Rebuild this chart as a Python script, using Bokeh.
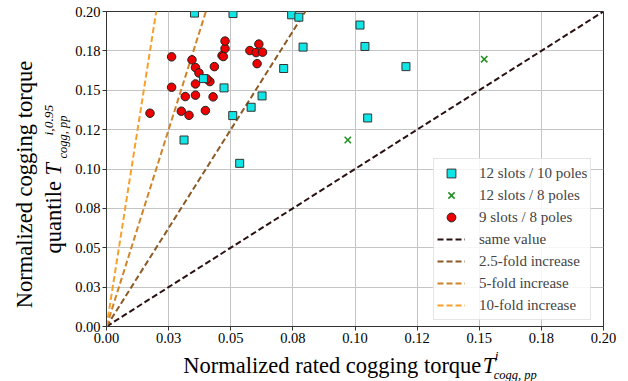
import math
from bokeh.plotting import figure
from bokeh.layouts import row, column
from bokeh.models import Legend, LegendItem, FixedTicker, Range1d
from bokeh.core.properties import value
from bokeh.embed import file_html
from bokeh.resources import INLINE

# ---------------- data ----------------
s12p10_x = [0.0354, 0.0509, 0.0745, 0.0774, 0.0791, 0.1020, 0.1040, 0.1205, 0.1051,
            0.0713, 0.0626, 0.0582, 0.0508, 0.0473, 0.0390, 0.0312, 0.0536]
s12p10_y = [0.1990, 0.1987, 0.1979, 0.1964, 0.1774, 0.1914, 0.1778, 0.1650, 0.1324,
            0.1638, 0.1464, 0.1392, 0.1339, 0.1515, 0.1574, 0.1184, 0.1036]

s12p8_x = [0.0971, 0.1520]
s12p8_y = [0.1184, 0.1697]

s9p8_x = [0.0175, 0.0262, 0.0262, 0.0301, 0.0332, 0.0317, 0.0344, 0.0358, 0.0372, 0.0358,
          0.0358, 0.0398, 0.0416, 0.0404, 0.0429, 0.0434, 0.0465, 0.0470, 0.0477, 0.0477,
          0.0577, 0.0602, 0.0628, 0.0613, 0.0606]
s9p8_y = [0.1354, 0.1712, 0.1519, 0.1367, 0.1341, 0.1460, 0.1693, 0.1644, 0.1610, 0.1540,
          0.1469, 0.1371, 0.1555, 0.1572, 0.1458, 0.1650, 0.1720, 0.1714, 0.1765, 0.1812,
          0.1752, 0.1739, 0.1742, 0.1793, 0.1669]

ref_factors = [1.0, 2.5, 5.0, 10.0]
ref_names = ["same value", "2.5-fold increase", "5-fold increase", "10-fold increase"]
ref_colors = ["#2b1212", "#8c5a25", "#cf8428", "#f8a02a"]

tick_values = [0.0, 0.025, 0.05, 0.075, 0.1, 0.125, 0.15, 0.175, 0.2]
tick_labels = ["0.00", "0.03", "0.05", "0.08", "0.10", "0.12", "0.15", "0.18", "0.20"]

series_names = ["12 slots / 10 poles", "12 slots / 8 poles", "9 slots / 8 poles"]

x_max = 0.2
y_max = 0.2

# ---------------- layout geometry ----------------
W, H = 628, 381
YW = 72                 # width of the left title strip
MAIN_H = 348            # height of the main figure
XH = H - MAIN_H         # height of bottom title strip
BL, BR, BT, BB = 33, 25, 11, 22   # borders of the main figure
FONT = "Liberation Serif"

p = figure(width=W - YW, height=MAIN_H, x_range=Range1d(0, x_max), y_range=Range1d(0, y_max),
           output_backend="svg", toolbar_location=None,
           min_border_left=BL, min_border_right=BR, min_border_top=BT, min_border_bottom=BB)

p.outline_line_color = "#333333"
p.outline_line_width = 1
p.background_fill_color = "white"
p.border_fill_color = "white"

for ax in (p.xaxis, p.yaxis):
    ax.ticker = FixedTicker(ticks=tick_values)
    ax.major_label_overrides = dict(zip(tick_values, tick_labels))
    ax.major_label_text_font = FONT
    ax.major_label_text_font_size = "14.5px"
    ax.major_label_text_color = "black"
    ax.axis_line_color = "#333333"
    ax.major_tick_line_color = "#333333"
    ax.major_tick_out = 4
    ax.major_tick_in = 0
    ax.minor_tick_line_color = None
    ax.major_label_standoff = 2

p.xgrid.grid_line_color = "#c4c4c4"
p.ygrid.grid_line_color = "#c4c4c4"
p.xgrid.ticker = FixedTicker(ticks=tick_values)
p.ygrid.ticker = FixedTicker(ticks=tick_values)

line_rs = []
for f, c in zip(ref_factors, ref_colors):
    r = p.line([0, x_max], [0, x_max * f], line_color=c, line_width=2, line_dash="6 3")
    line_rs.append(r)

r_red = p.scatter(s9p8_x, s9p8_y, marker="circle", size=8.5, fill_color="#ee0000",
                  line_color="#222222", line_width=1)
r_cyan = p.scatter(s12p10_x, s12p10_y, marker="square", size=8, fill_color="#10e6e6",
                   line_color="#333333", line_width=1)
r_green = p.scatter(s12p8_x, s12p8_y, marker="x", size=9, line_color="#1f8f1f",
                    line_width=1.5)

items = [LegendItem(label=series_names[0], renderers=[r_cyan]),
         LegendItem(label=series_names[1], renderers=[r_green]),
         LegendItem(label=series_names[2], renderers=[r_red])]
for nm, r in zip(ref_names, line_rs):
    items.append(LegendItem(label=nm, renderers=[r]))

legend = Legend(items=items, location=(327, 6))
legend.label_text_font = FONT
legend.label_text_font_size = "15px"
legend.label_height = 22
legend.glyph_height = 22
legend.glyph_width = 28
legend.label_standoff = 14
legend.spacing = 0
legend.padding = 3
legend.margin = 0
legend.border_line_color = "#cccccc"
legend.border_line_width = 1
legend.background_fill_alpha = 0.85
p.add_layout(legend)


# ---------------- title strips (text drawn in canvas-pixel coordinates) ----------------
def strip(w, h, xr, yr, bl, br, bt, bb):
    f = figure(width=w, height=h, x_range=Range1d(*xr), y_range=Range1d(*yr),
               x_axis_type=None, y_axis_type=None, output_backend="svg",
               toolbar_location=None, min_border_left=bl, min_border_right=br,
               min_border_top=bt, min_border_bottom=bb)
    f.outline_line_color = None
    f.grid.visible = False
    f.background_fill_color = "white"
    f.border_fill_color = "white"
    return f


SHIFT = 0.33   # empirical baseline correction (fraction of font size)


def put(f, text, px, py, size, style="normal", angle=0.0, align="left"):
    # (px, py): desired baseline anchor in canvas pixels (y downward)
    if angle == 0.0:
        py = py - SHIFT * size
    else:
        px = px - SHIFT * size
    f.text(x=[px], y=[H - py], text=[text], text_font=value(FONT),
           text_font_size=value(f"{size}px"), text_font_style=style, text_color="black",
           angle=angle, text_align=align, text_baseline="alphabetic")


# bottom strip: frame aligned with main frame horizontally
xf = strip(W - YW, XH, (YW + BL, W - BR), (0, XH), BL, BR, 0, 0)
put(xf, "Normalized rated cogging torque", 182, 372, 22.5)
put(xf, "T", 482, 372, 22.5, "italic")
put(xf, "i", 494, 359.5, 13.5, "italic")
put(xf, "cogg, pp", 493, 379, 12.5, "italic")

# left strip: frame aligned with main frame vertically (top BT, bottom BB)
yf = strip(YW, H, (0, YW), (BB + XH, H - BT), 0, 0, BT, BB + XH)
A = math.pi / 2
put(yf, "Normalized cogging torque", 31.5, 184, 22.5, angle=A, align="center")
put(yf, "quantile", 60, 253, 22.5, angle=A)
put(yf, "T", 60, 175, 22.5, "italic", angle=A)
put(yf, "i,0.95", 52, 135, 13.5, "italic", angle=A)
put(yf, "cogg, pp", 67, 158, 12.5, "italic", angle=A)

layout = row(yf, column(p, xf, spacing=0), spacing=0)

open("out.html", "w").write(file_html(layout, INLINE))
